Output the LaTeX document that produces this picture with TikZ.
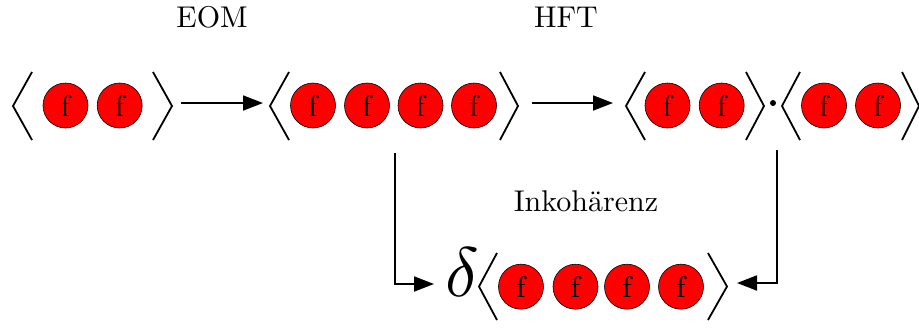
\documentclass[tikz,border=0pt]{standalone}
\usepackage{graphicx}
\usetikzlibrary{arrows.meta}
\newcommand{\bigtxt}[1]{\scalebox{3}{#1}}
\begin{document}
\begin{tikzpicture}[x=1pt,y=-1pt,
  ball/.style={circle,draw=black,line width=0.6pt,fill=red,minimum size=45pt,inner sep=0pt},
  br/.style={line width=1.8pt,line join=miter},
  conn/.style={line width=1.8pt,-{Triangle[length=20pt,width=15pt]}},
  lbl/.style={inner sep=0pt}]
\useasboundingbox (0,0) rectangle (919,327);
% labels
\node[lbl] (eom) at (212,17.5) {\bigtxt{EOM}};
\node[lbl] (hft) at (566,17.5) {\bigtxt{HFT}};
\node[lbl] (ink) at (586,201) {\bigtxt{Inkohärenz}};
% group 1
\draw[br] (32,72) -- (13,106) -- (32,140);
\node[ball] (a1) at (65.5,105.5) {\bigtxt{f}};
\node[ball] (a2) at (119.7,105.5) {\bigtxt{f}};
\draw[br] (153,72) -- (172,106) -- (153,140);
% group 2
\draw[br] (289,72) -- (270,106) -- (289,140);
\node[ball] (b1) at (313,105.5) {\bigtxt{f}};
\node[ball] (b2) at (367,105.5) {\bigtxt{f}};
\node[ball] (b3) at (420.5,105.5) {\bigtxt{f}};
\node[ball] (b4) at (474,105.5) {\bigtxt{f}};
\draw[br] (500,72) -- (518,106) -- (500,140);
% group 3
\draw[br] (645,72) -- (626,106) -- (645,140);
\node[ball] (c1) at (667.5,105.5) {\bigtxt{f}};
\node[ball] (c2) at (721.7,105.5) {\bigtxt{f}};
\draw[br] (746,72) -- (764,106) -- (746,140);
\fill (773,103) circle (3pt);
\draw[br] (800,72) -- (782,106) -- (800,140);
\node[ball] (c3) at (824,105.5) {\bigtxt{f}};
\node[ball] (c4) at (878,105.5) {\bigtxt{f}};
\draw[br] (902,72) -- (919,106) -- (902,140);
% bottom group
\node[inner sep=0pt] (delta) at (462,272) {\scalebox{7}{$\delta$}};
\draw[br] (497,253) -- (479,286.5) -- (497,320);
\node[ball] (d1) at (521,286.7) {\bigtxt{f}};
\node[ball] (d2) at (575.5,286.7) {\bigtxt{f}};
\node[ball] (d3) at (627,286.7) {\bigtxt{f}};
\node[ball] (d4) at (681,286.7) {\bigtxt{f}};
\draw[br] (708,253) -- (727,286.5) -- (708,320);
% connectors
\coordinate (p1s) at (181,103);
\coordinate (p1e) at (263,103);
\coordinate (p2s) at (532,103);
\coordinate (p2e) at (613,103);
\coordinate (q1s) at (395,153);
\coordinate (q1e) at (434,284);
\coordinate (q2s) at (777,150);
\coordinate (q2e) at (737,283);
\draw[conn] (p1s) -- (p1e);
\draw[conn] (p2s) -- (p2e);
\draw[conn] (q1s) |- (q1e);
\draw[conn] (q2s) |- (q2e);
\end{tikzpicture}
\end{document}
